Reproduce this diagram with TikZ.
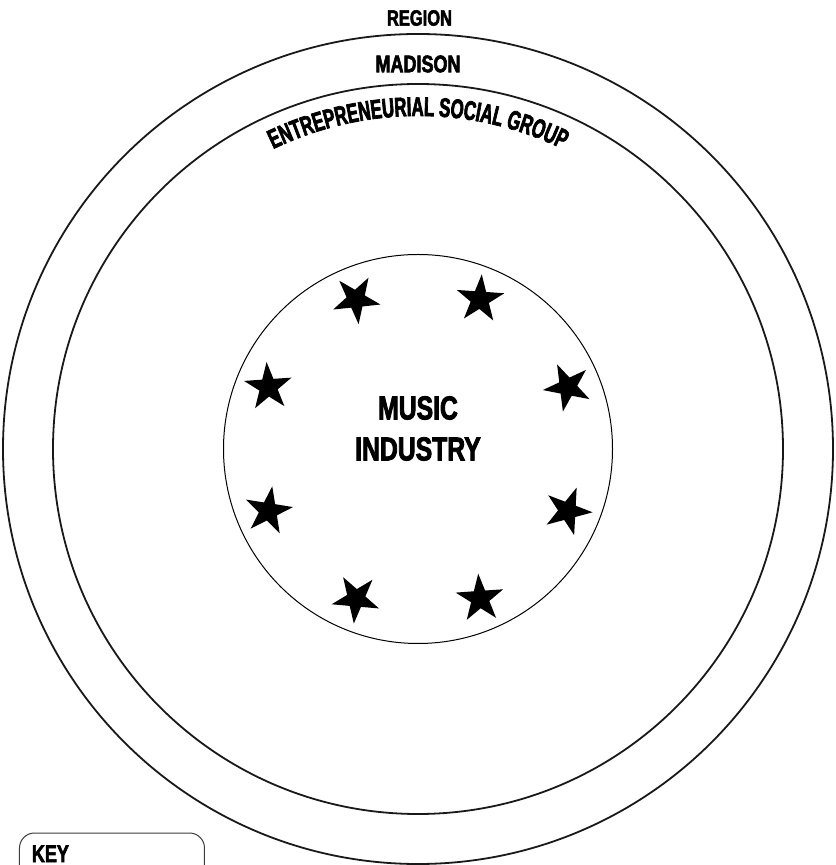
\documentclass[tikz,border=0pt]{standalone}
\usepackage{fontspec}
\usepackage{tikz}
\usetikzlibrary{shapes.geometric,decorations.text}
\newfontfamily\labelfont[FakeStretch=0.75, FakeBold=2.5]{Liberation Sans Bold}
\newfontfamily\arcfont[FakeStretch=0.62, FakeBold=2.5]{Liberation Sans Bold}
\definecolor{keygray}{RGB}{60,60,60}

\begin{document}
\begin{tikzpicture}[x=0.5pt, y=0.5pt,
    ring/.style={line width=0.9pt, black!90},
    ringlabel/.style={font=\labelfont\fontsize{#1}{#1}\selectfont, inner sep=0pt},
    starmark/.style={star, star points=5, star point ratio=2.6, fill=black, inner sep=0pt, minimum size=25pt}]
    \useasboundingbox (-418,-416) rectangle (417,449);

    \draw[ring] (0,0) circle[radius=415];
    \draw[ring] (0,0) circle[radius=365];
    \draw[line width=0.5pt] (0,0) circle[radius=194.5];

    \node[ringlabel=11] (region) at (1.5,431) {REGION};
    \node[ringlabel=12] (madison) at (0,385) {MADISON};
    \path[decorate, decoration={text along path, text align=center,
        text={|\arcfont\fontsize{13.5}{15}\selectfont|ENTREPRENEURIAL SOCIAL GROUP}}]
        (150:333) arc[start angle=150, end angle=30, radius=333];

    \node[font=\labelfont\fontsize{16.5}{20.5}\selectfont, align=center, inner sep=0pt] (music) at (0,20.5) {MUSIC\\INDUSTRY};

    \foreach \ang/\rot [count=\i] in {22.5/-47, 67.5/-4, 112.5/-30, 157.5/4, 202.5/-9, 247.5/-41, 292.5/4, 337.5/-21}
        \node[starmark, shape border rotate=\rot] (star\i) at (\ang:162) {};

    \draw[keygray, line width=0.5pt, rounded corners=7.5pt] (-398.5,-440) -- (-398.5,-384) -- (-213.5,-384) -- (-213.5,-440);
    \node[ringlabel=12, anchor=base west] (key) at (-386.5,-413) {KEY};
\end{tikzpicture}
\end{document}
